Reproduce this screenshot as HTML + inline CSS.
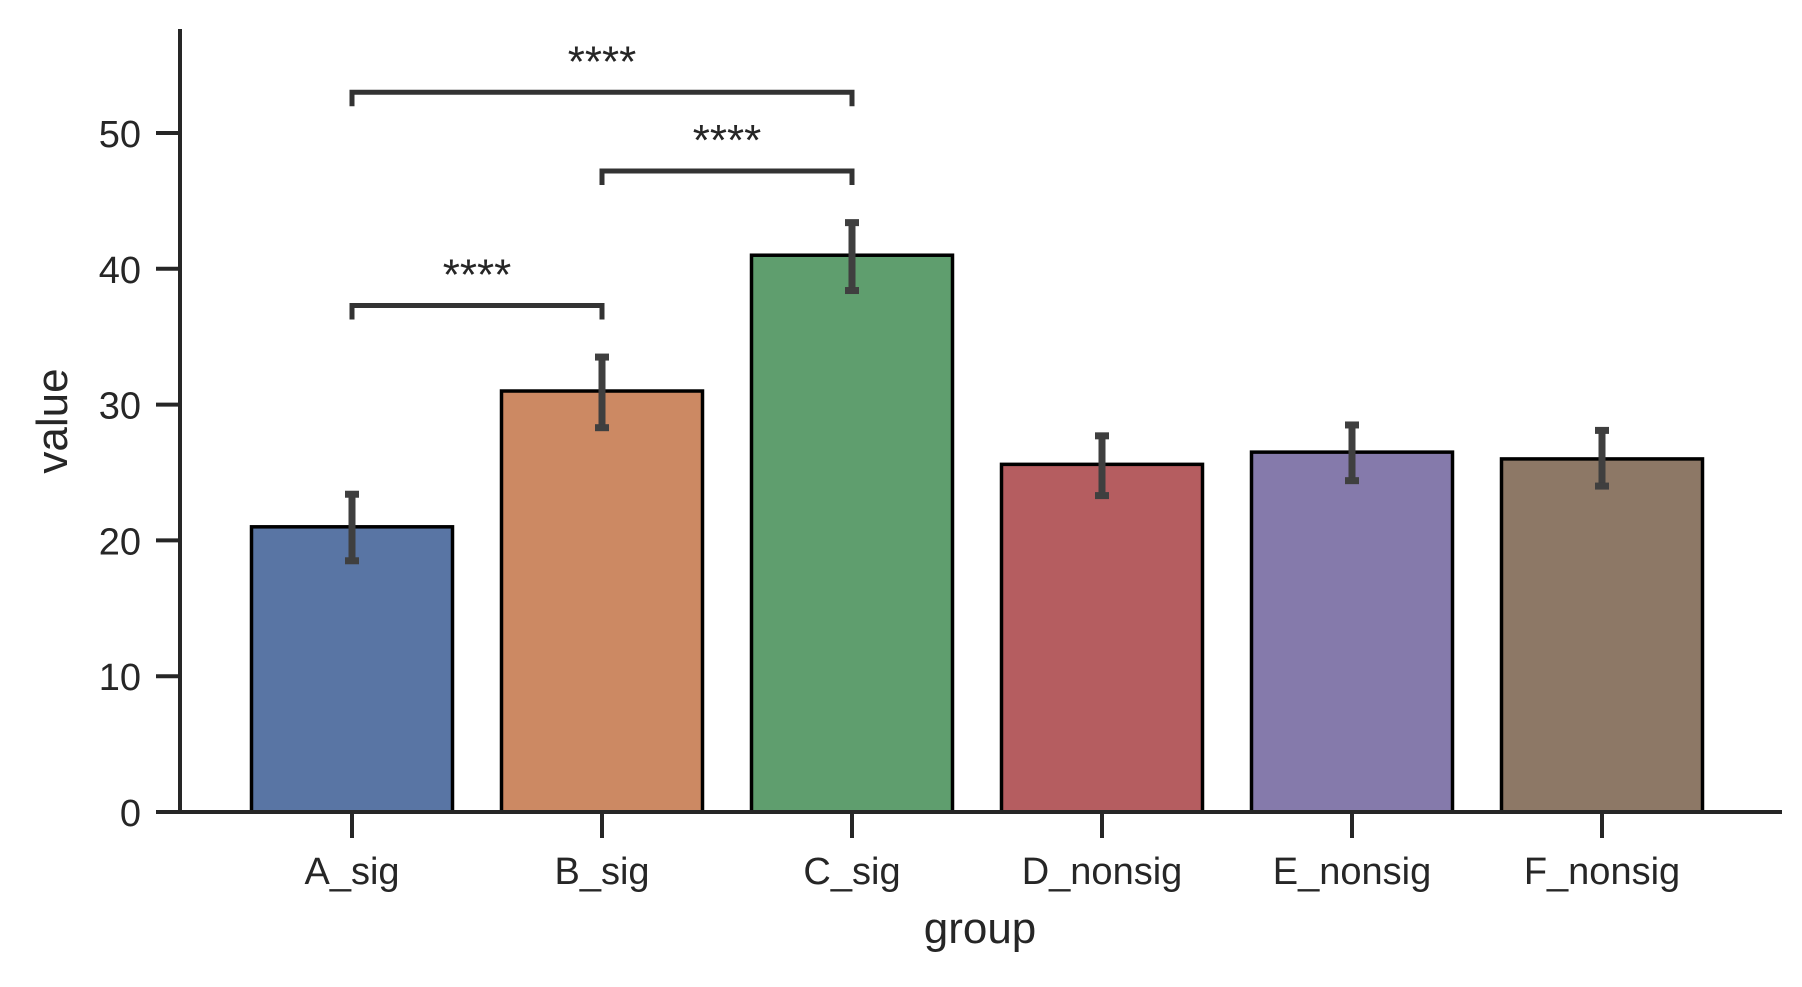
<!DOCTYPE html>
<html><head><meta charset="utf-8"><style>
html,body{margin:0;padding:0;background:#fff;}
svg text{font-family:"Liberation Sans",Arial,sans-serif;fill:#262626;}
</style></head><body>
<svg id="chart" width="1802" height="982" viewBox="0 0 1802 982" xmlns="http://www.w3.org/2000/svg"></svg>
<script>
const categories = ["A_sig","B_sig","C_sig","D_nonsig","E_nonsig","F_nonsig"];
const values = [21, 31, 41, 25.6, 26.5, 26];
const errLow = [18.5, 28.3, 38.4, 23.3, 24.4, 24.0];
const errHigh = [23.4, 33.5, 43.4, 27.7, 28.5, 28.1];
const colors = ["#5975a4","#cc8963","#5f9e6e","#b55d60","#857aab","#8d7866"];
const yTicks = [0,10,20,30,40,50];
const brackets = [[0,1,37.3,"****"],[1,2,47.2,"****"],[0,2,53.0,"****"]];

const NS="http://www.w3.org/2000/svg";
const svg=document.getElementById('chart');
const y0=812, pxPerUnit=13.58, xStart=352, step=250, barW=201;
const yS=v=>y0-v*pxPerUnit;
const xS=i=>xStart+i*step;
function mk(tag,attrs,parent){const e=document.createElementNS(NS,tag);for(const k in attrs)e.setAttribute(k,attrs[k]);(parent||svg).appendChild(e);return e;}

categories.forEach((c,i)=>{
  const r=mk('rect',{x:xS(i)-barW/2,y:yS(values[i]),width:barW,height:y0-yS(values[i]),fill:colors[i],stroke:'#000','stroke-width':3.5});
  
  
});
categories.forEach((c,i)=>{
  const g=mk('g',{stroke:'#3f3f3f','stroke-width':7});
  
  
  mk('line',{x1:xS(i),x2:xS(i),y1:yS(errLow[i]),y2:yS(errHigh[i])},g);
  mk('line',{x1:xS(i)-7,x2:xS(i)+7,y1:yS(errLow[i]),y2:yS(errLow[i])},g);
  mk('line',{x1:xS(i)-7,x2:xS(i)+7,y1:yS(errHigh[i]),y2:yS(errHigh[i])},g);
});
const ax=mk('line',{x1:180,x2:180,y1:29,y2:y0,stroke:'#262626','stroke-width':4});


const xa=mk('line',{x1:180,x2:1782,y1:y0,y2:y0,stroke:'#262626','stroke-width':4});


yTicks.forEach(t=>{
  const l=mk('line',{x1:156,x2:180,y1:yS(t),y2:yS(t),stroke:'#262626','stroke-width':4});
  
  
  const tx=mk('text',{x:141,y:yS(t)+14,'text-anchor':'end','font-size':38});
  tx.textContent=t;
  
  
});
categories.forEach((c,i)=>{
  const l=mk('line',{x1:xS(i),x2:xS(i),y1:y0,y2:y0+26,stroke:'#262626','stroke-width':4});
  
  
  const tx=mk('text',{x:xS(i),y:884,'text-anchor':'middle','font-size':38});
  tx.textContent=c;
  
  
});
const xl=mk('text',{x:980,y:943,'text-anchor':'middle','font-size':44});
xl.textContent='group';


const yl=mk('text',{x:0,y:0,'text-anchor':'middle','font-size':44,transform:'translate(67,421) rotate(-90)'});
yl.textContent='value';


brackets.forEach(b=>{
  const [a,c,v,s]=b;
  const y=yS(v), x1=xS(a), x2=xS(c);
  const p=mk('path',{d:`M${x1},${y+14} L${x1},${y} L${x2},${y} L${x2},${y+14}`,fill:'none',stroke:'#333','stroke-width':5});
  
  
  const t=mk('text',{x:(x1+x2)/2,y:y-16,'text-anchor':'middle','font-size':44});
  t.textContent=s;
  
  
});
</script>
</body></html>
